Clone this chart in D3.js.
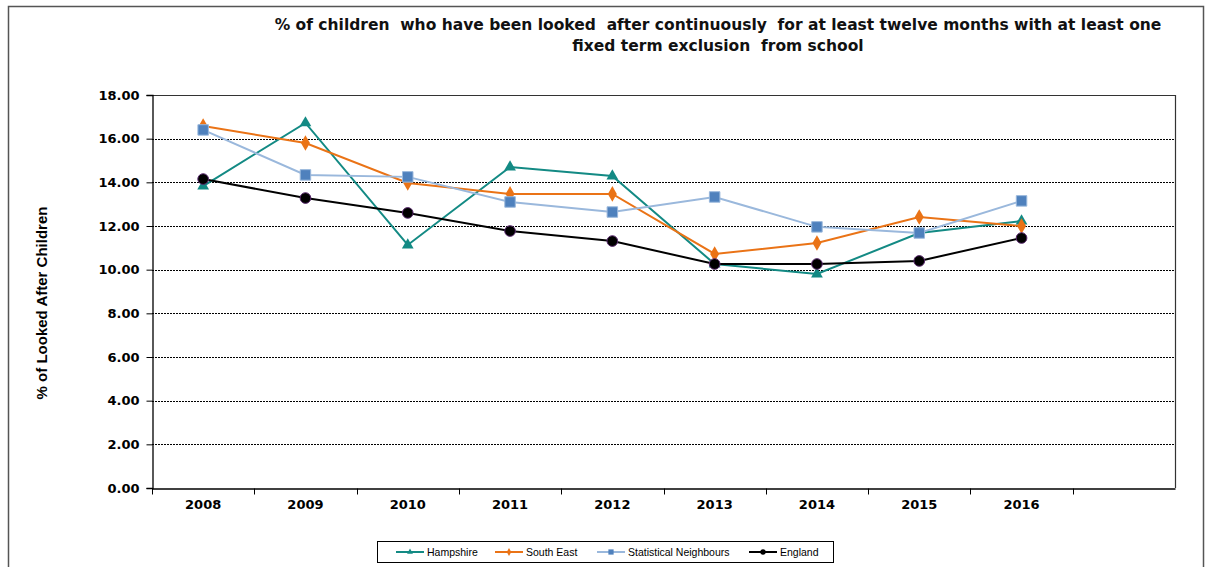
<!DOCTYPE html>
<html>
<head>
<meta charset="utf-8">
<script src="https://cdn.jsdelivr.net/npm/d3@7"></script>
<style>
  body { margin: 0; background: #fff; }
  svg { display: block; }
</style>
</head>
<body>
<svg id="chart" width="1208" height="567"></svg>
<script>
// chart data
const years = ['2008', '2009', '2010', '2011', '2012', '2013', '2014', '2015', '2016', ''];
const hampshire = [13.83, 16.72, 11.13, 14.70, 14.29, 10.26, 9.80, 11.68, 12.23];
const southEast = [16.58, 15.80, 13.97, 13.47, 13.47, 10.72, 11.22, 12.41, 12.00];
const statNeighbours = [16.40, 14.34, 14.25, 13.10, 12.64, 13.33, 11.96, 11.68, 13.15];
const england = [14.15, 13.28, 12.60, 11.77, 11.31, 10.26, 10.26, 10.40, 11.45];
const yTicks = [0, 2, 4, 6, 8, 10, 12, 14, 16, 18];

const series = [
  { name: 'Hampshire', values: hampshire, color: '#138a84', symbol: d3.symbolTriangle, size: 60 },
  { name: 'South East', values: southEast, color: '#ea7316', symbol: d3.symbolDiamond, size: 70 },
  { name: 'Statistical Neighbours', values: statNeighbours, color: '#9ab8dc', fill: '#4f81bd', symbol: d3.symbolSquare, size: 110 },
  { name: 'England', values: england, color: '#000000', fill: '#000000', stroke: '#5a2a6e', symbol: d3.symbolCircle, size: 90 }
];

const svg = d3.select('#chart');
const margin = { top: 95, right: 33, bottom: 79, left: 152 };
const width = 1208;
const height = 567;

// outer frame
svg.append('rect')
  .attr('x', 8.5).attr('y', 6.5)
  .attr('width', 1195).attr('height', 580)
  .attr('fill', 'none').attr('stroke', '#555').attr('stroke-width', 1.5);

const x = d3.scaleBand()
  .domain(years)
  .range([margin.left, width - margin.right]);

const y = d3.scaleLinear()
  .domain([0, 18])
  .range([height - margin.bottom, margin.top]);

// grid
svg.append('g')
  .selectAll('line')
  .data(yTicks.slice(1, -1))
  .join('line')
  .attr('x1', margin.left).attr('x2', width - margin.right)
  .attr('y1', d => Math.round(y(d)) + 0.5).attr('y2', d => Math.round(y(d)) + 0.5)
  .attr('stroke', '#000').attr('stroke-width', 1).attr('stroke-dasharray', '2,1');

// plot frame top/right
svg.append('path')
  .attr('d', `M${margin.left},${Math.round(y(18)) + 0.5}H${width - margin.right + 0.5}V${Math.round(y(0))}`)
  .attr('fill', 'none').attr('stroke', '#333').attr('stroke-width', 1.2);

const yAxis = g => g
  .attr('transform', `translate(${margin.left + 0.5},0)`)
  .call(d3.axisLeft(y).tickValues(yTicks).tickFormat(d3.format('.2f')).tickSize(6).tickPadding(7))
  .call(g => g.select('.domain').attr('stroke', '#000').attr('stroke-width', 1.3))
  .call(g => g.selectAll('.tick line').attr('stroke', '#000'))
  .call(g => g.selectAll('text')
    .attr('font-family', 'DejaVu Sans, Verdana, sans-serif')
    .attr('font-weight', 'bold')
    .attr('font-size', 13)
    .attr('fill', '#000'));

const xAxis = g => g
  .attr('transform', `translate(0,${Math.round(y(0)) + 0.5})`)
  .call(d3.axisBottom(x).tickSize(0).tickPadding(11))
  .call(g => g.select('.domain').attr('stroke', '#000').attr('stroke-width', 1.3))
  .call(g => g.selectAll('text')
    .attr('font-family', 'DejaVu Sans, Verdana, sans-serif')
    .attr('font-weight', 'bold')
    .attr('font-size', 13)
    .attr('fill', '#000'))
  .call(g => g.selectAll('.sep')
    .data(years)
    .join('line')
    .attr('class', 'sep')
    .attr('x1', d => Math.round(x(d)) + 0.5).attr('x2', d => Math.round(x(d)) + 0.5)
    .attr('y1', 0).attr('y2', 6)
    .attr('stroke', '#000'));

svg.append('g').call(xAxis);
svg.append('g').call(yAxis);

// lines and markers
const line = d3.line()
  .x((d, i) => x(years[i]) + x.bandwidth() / 2)
  .y(d => y(d));

series.forEach(s => {
  svg.append('path')
    .datum(s.values)
    .attr('fill', 'none')
    .attr('stroke', s.color)
    .attr('stroke-width', 2)
    .attr('d', line);
});

series.forEach(s => {
  svg.append('g')
    .selectAll('path')
    .data(s.values)
    .join('path')
    .attr('transform', (d, i) => `translate(${x(years[i]) + x.bandwidth() / 2},${y(d)})`)
    .attr('d', d3.symbol(s.symbol, s.size))
    .attr('fill', s.fill || s.color)
    .attr('stroke', s.stroke || (s.fill ? s.color : 'none'))
    .attr('stroke-width', 1);
});

// title
const title = svg.append('text')
  .attr('text-anchor', 'middle')
  .attr('font-family', 'DejaVu Sans, Verdana, sans-serif')
  .attr('font-weight', 'bold')
  .attr('font-size', 15.5)
  .attr('fill', '#111')
  .style('white-space', 'pre');
title.append('tspan').attr('x', 718).attr('y', 30)
  .text('% of children  who have been looked  after continuously  for at least twelve months with at least one');
title.append('tspan').attr('x', 718).attr('y', 51)
  .text('fixed term exclusion  from school');

// y label
svg.append('text')
  .attr('transform', 'translate(47,303) rotate(-90)')
  .attr('text-anchor', 'middle')
  .attr('font-family', 'Liberation Sans, Arial, sans-serif')
  .attr('font-weight', 'bold')
  .attr('font-size', 15)
  .attr('fill', '#000')
  .text('% of Looked After Children');

// legend
const legend = svg.append('g');
legend.append('rect')
  .attr('x', 377.5).attr('y', 541.5)
  .attr('width', 456).attr('height', 21)
  .attr('fill', '#fff').attr('stroke', '#000').attr('stroke-width', 1);

const legendX = [396, 495, 597, 749];
series.forEach((s, i) => {
  const g = legend.append('g').attr('transform', `translate(${legendX[i]},552)`);
  g.append('line').attr('x1', 0).attr('x2', 28).attr('y1', 0).attr('y2', 0)
    .attr('stroke', s.color).attr('stroke-width', 2);
  g.append('path')
    .attr('transform', 'translate(14,0)')
    .attr('d', d3.symbol(s.symbol, s.size / 4))
    .attr('fill', s.fill || s.color);
  g.append('text')
    .attr('x', 31).attr('y', 3.5)
    .attr('font-family', 'Liberation Sans, Arial, sans-serif')
    .attr('font-size', 10.5)
    .attr('fill', '#000')
    .text(s.name);
});
</script>
</body>
</html>
